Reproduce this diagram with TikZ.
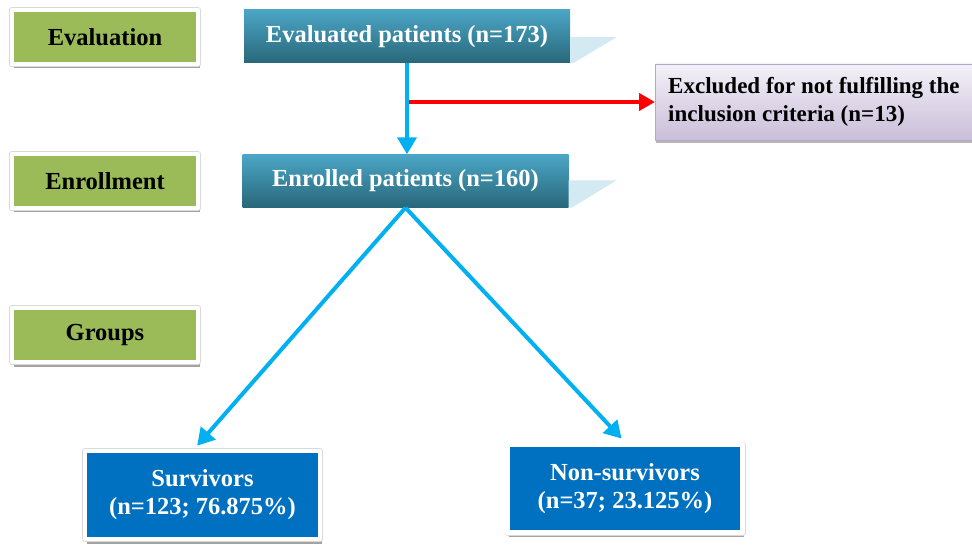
\documentclass[tikz,border=0pt]{standalone}
\usepackage{fontspec}
\setmainfont{Liberation Serif}
\usetikzlibrary{arrows.meta,shadows}
\definecolor{phasegreen}{HTML}{9BBB59}
\definecolor{tealtop}{HTML}{4BA6C6}
\definecolor{tealbot}{HTML}{286779}
\definecolor{reflblue}{HTML}{D4EAF2}
\definecolor{groupblue}{HTML}{0070C0}
\definecolor{arrowblue}{HTML}{00B0F0}
\definecolor{lilactop}{HTML}{F4F1F8}
\definecolor{lilacbot}{HTML}{CABED9}
\definecolor{lilacline}{HTML}{B6A7CA}
\begin{document}
\begin{tikzpicture}[x=1pt,y=-1pt,line join=round,font=\bfseries\fontsize{24.5}{28}\selectfont]
	\tikzset{framed/.style={draw=white,line width=4.5pt,drop shadow={shadow xshift=1.5pt,shadow yshift=-4.5pt,fill=black!45,opacity=0.8},preaction={draw=black!15,line width=6pt}},
		phase/.style={framed,fill=phasegreen,minimum width=186pt,minimum height=54pt},
		stage/.style={top color=tealtop,bottom color=tealbot,text=white,minimum width=326pt,minimum height=53pt},
		groupbox/.style={framed,fill=groupblue,text=white,align=center,minimum width=235pt,minimum height=88pt},
		exclbox/.style={top color=lilactop,bottom color=lilacbot,draw=lilacline,line width=0.8pt,align=left,minimum width=317pt,minimum height=76pt,font=\bfseries\fontsize{23}{28}\selectfont,drop shadow={shadow xshift=1pt,shadow yshift=-3pt,fill=black!40,opacity=0.7}},
		flow/.style={draw=arrowblue,line width=4pt,-{Triangle[width=19pt,length=17pt]}},
		reject/.style={draw=red,line width=4pt,-{Triangle[width=17pt,length=16pt]}}}
	\useasboundingbox (0,0) rectangle (972,545);
	\node[phase] (evph) at (105,37) {Evaluation};
	\node[phase] (enph) at (105,181) {Enrollment};
	\node[phase] (grph) at (105,335) {Groups};
	\node[stage] (ev) at (407,36.5) {Evaluated patients (n=173)};
	\node[stage] (en) at (405.5,181) {Enrolled patients (n=160)};
	\fill[reflblue] ([yshift=-27pt]ev.north east) -- ++(47,0) -- ([xshift=3pt]ev.south east) -- (ev.south east) -- cycle;
	\fill[reflblue] ([yshift=-26pt]en.north east) -- ++(48,0) -- ([xshift=3pt]en.south east) -- (en.south east) -- cycle;
	\node[exclbox,anchor=west] (exc) at (655,102) {Excluded for not fulfilling the\\inclusion criteria (n=13)};
	\node[groupbox] (sur) at (202.5,495) {Survivors\\(n=123; 76.875\%)};
	\node[groupbox] (nsur) at (625,488.5) {Non-survivors\\(n=37; 23.125\%)};
	\coordinate (split) at (ev.south |- exc.west);
	\draw[reject] (split) -- (exc.west);
	\draw[flow] (ev.south) -- (ev.south |- en.north);
	\draw[flow,shorten >=4pt] (en.south) -- ([xshift=-8pt]sur.north);
	\draw[flow,shorten >=5pt] (en.south) -- (nsur.north);
\end{tikzpicture}
\end{document}
